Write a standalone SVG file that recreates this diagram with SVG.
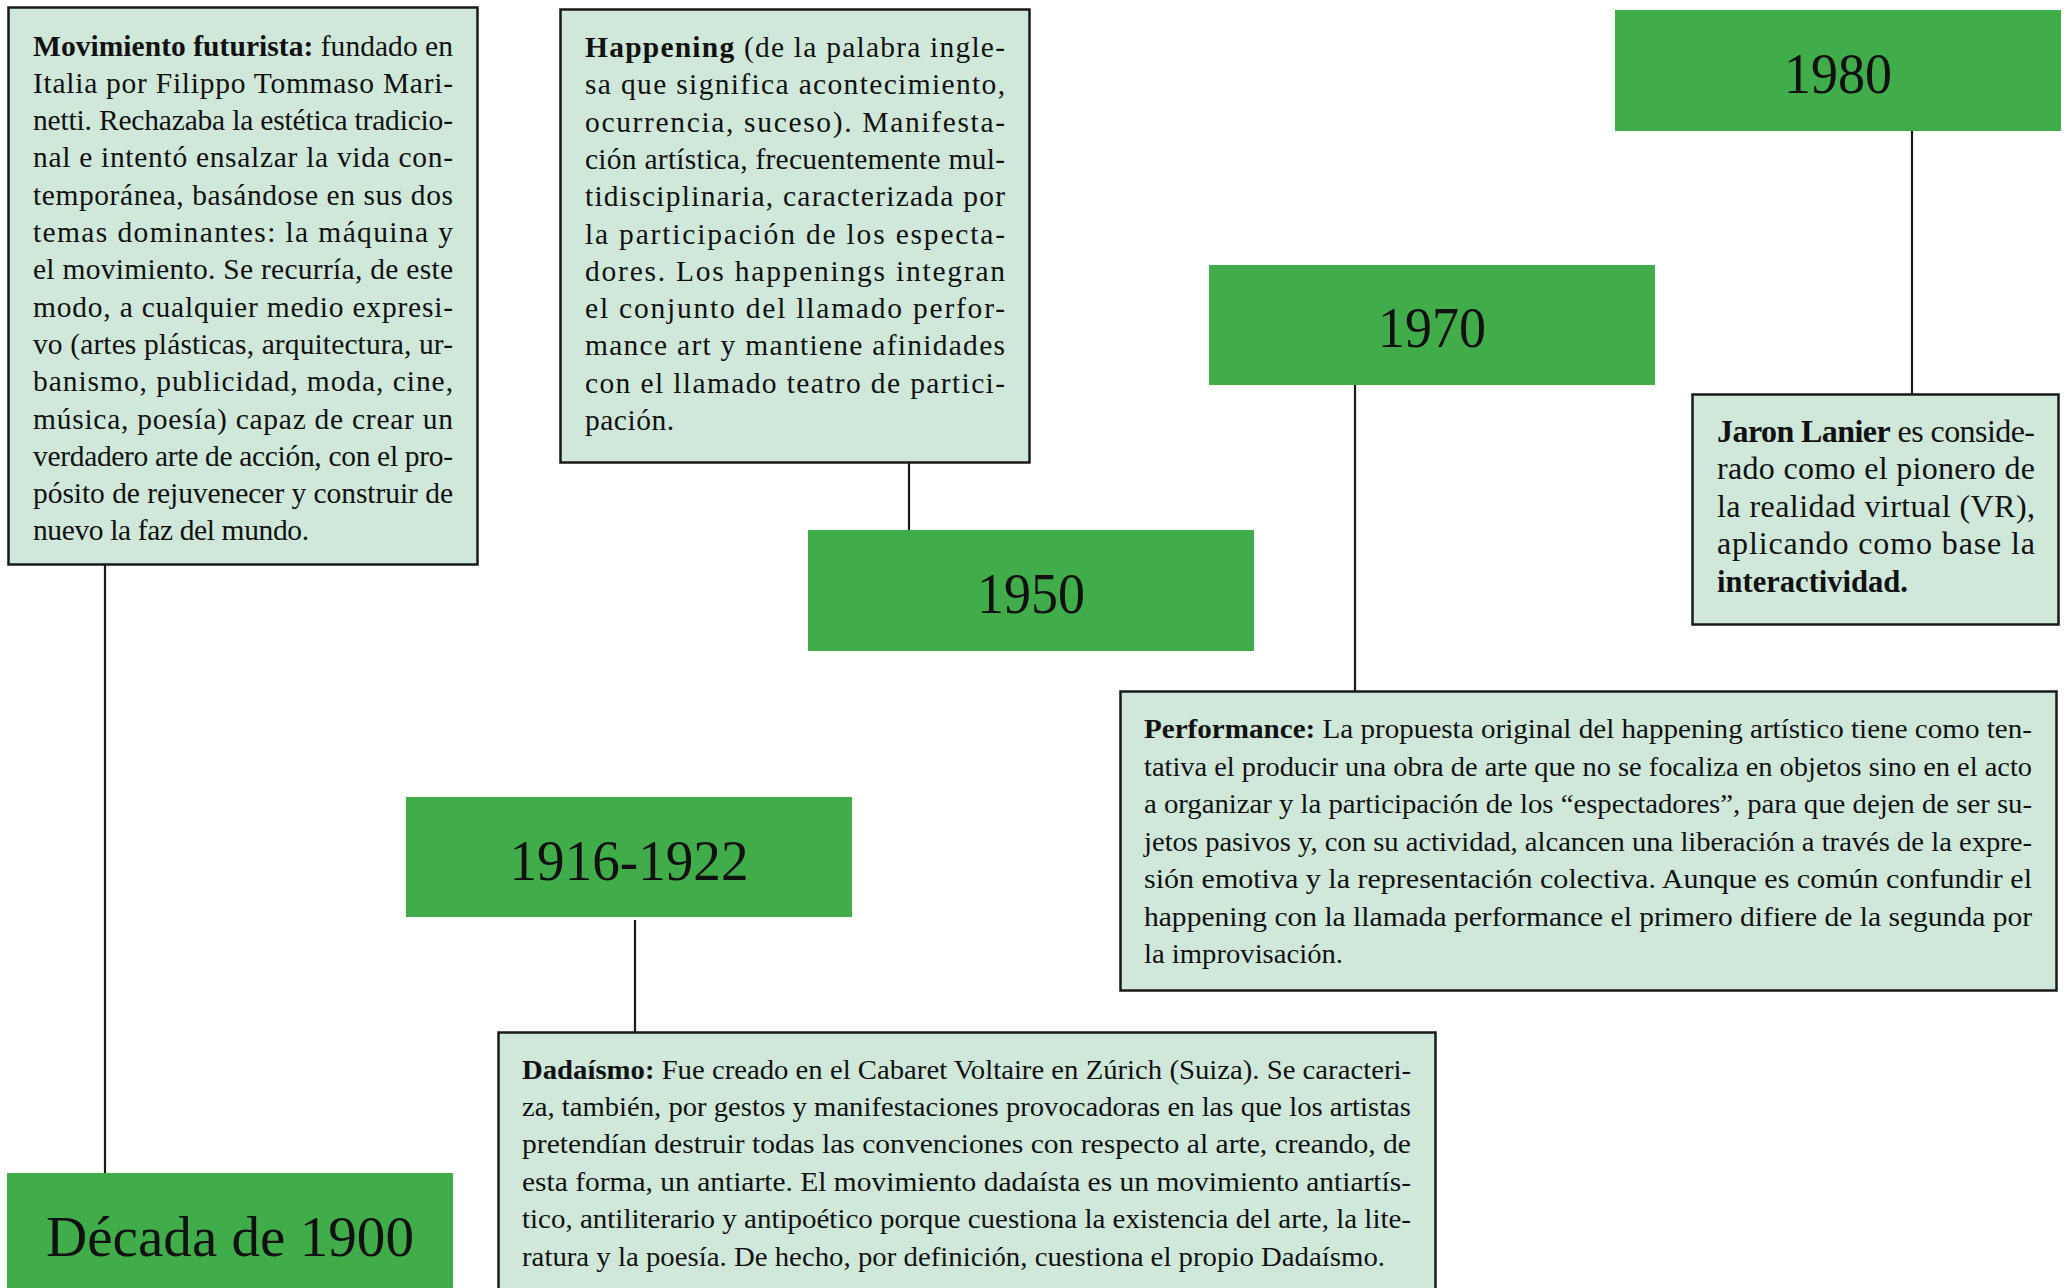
<svg xmlns="http://www.w3.org/2000/svg" width="2065" height="1288" viewBox="0 0 2065 1288">
<style>
.card{fill:#cfe8da;stroke:#1a1a1a;stroke-width:2.5}
.year{fill:#41ad4a}
.conn{stroke:#1a1a1a;stroke-width:2.2;fill:none}
.t{font-family:"Liberation Serif","DejaVu Serif",serif;font-size:28px;fill:#111}
.tw{font-size:29.5px}
.tj{font-family:"Liberation Serif","DejaVu Serif",serif;font-size:32px;fill:#111}
.b{font-weight:bold}
.y{font-family:"Liberation Serif","DejaVu Serif",serif;font-size:57px;fill:#111;text-anchor:middle}
</style>
<rect width="2065" height="1288" fill="#ffffff"/>
<g id="connectors">
<line class="conn" x1="105" y1="565" x2="105" y2="1173"/>
<line class="conn" x1="635" y1="920" x2="635" y2="1033"/>
<line class="conn" x1="909" y1="463" x2="909" y2="530"/>
<line class="conn" x1="1355" y1="385" x2="1355" y2="691"/>
<line class="conn" x1="1912" y1="128" x2="1912" y2="394"/>
</g>
<g id="futurismo">
<rect class="card" x="8.5" y="7.5" width="469" height="557"/>
<text class="t tw" x="33" y="55.5" textLength="420" lengthAdjust="spacing"><tspan class="b">Movimiento futurista:</tspan> fundado en</text>
<text class="t tw" x="33" y="92.8" textLength="420" lengthAdjust="spacing">Italia por Filippo Tommaso Mari-</text>
<text class="t tw" x="33" y="130.1" textLength="420" lengthAdjust="spacing">netti. Rechazaba la estética tradicio-</text>
<text class="t tw" x="33" y="167.4" textLength="420" lengthAdjust="spacing">nal e intentó ensalzar la vida con-</text>
<text class="t tw" x="33" y="204.7" textLength="420" lengthAdjust="spacing">temporánea, basándose en sus dos</text>
<text class="t tw" x="33" y="242" textLength="420" lengthAdjust="spacing">temas dominantes: la máquina y</text>
<text class="t tw" x="33" y="279.3" textLength="420" lengthAdjust="spacing">el movimiento. Se recurría, de este</text>
<text class="t tw" x="33" y="316.6" textLength="420" lengthAdjust="spacing">modo, a cualquier medio expresi-</text>
<text class="t tw" x="33" y="353.9" textLength="420" lengthAdjust="spacing">vo (artes plásticas, arquitectura, ur-</text>
<text class="t tw" x="33" y="391.2" textLength="420" lengthAdjust="spacing">banismo, publicidad, moda, cine,</text>
<text class="t tw" x="33" y="428.5" textLength="420" lengthAdjust="spacing">música, poesía) capaz de crear un</text>
<text class="t tw" x="33" y="465.8" textLength="420" lengthAdjust="spacing">verdadero arte de acción, con el pro-</text>
<text class="t tw" x="33" y="503.1" textLength="420" lengthAdjust="spacing">pósito de rejuvenecer y construir de</text>
<text class="t tw" x="33" y="540.4" textLength="276" lengthAdjust="spacing">nuevo la faz del mundo.</text>
</g>
<g id="decada1900">
<rect class="year" x="7" y="1173" width="446" height="120"/>
<text class="y" x="230" y="1256" textLength="368" lengthAdjust="spacingAndGlyphs">Década de 1900</text>
</g>
<g id="y1916">
<rect class="year" x="406" y="797" width="446" height="120"/>
<text class="y" x="629" y="880" textLength="239" lengthAdjust="spacingAndGlyphs">1916-1922</text>
</g>
<g id="dadaismo">
<rect class="card" x="498.5" y="1032.5" width="937" height="270"/>
<text class="t" x="522" y="1078.5" textLength="889" lengthAdjust="spacingAndGlyphs"><tspan class="b">Dadaísmo:</tspan> Fue creado en el Cabaret Voltaire en Zúrich (Suiza). Se caracteri-</text>
<text class="t" x="522" y="1115.9" textLength="889" lengthAdjust="spacingAndGlyphs">za, también, por gestos y manifestaciones provocadoras en las que los artistas</text>
<text class="t" x="522" y="1153.3" textLength="889" lengthAdjust="spacingAndGlyphs">pretendían destruir todas las convenciones con respecto al arte, creando, de</text>
<text class="t" x="522" y="1190.7" textLength="889" lengthAdjust="spacingAndGlyphs">esta forma, un antiarte. El movimiento dadaísta es un movimiento antiartís-</text>
<text class="t" x="522" y="1228.1" textLength="889" lengthAdjust="spacingAndGlyphs">tico, antiliterario y antipoético porque cuestiona la existencia del arte, la lite-</text>
<text class="t" x="522" y="1265.5" textLength="863" lengthAdjust="spacingAndGlyphs">ratura y la poesía. De hecho, por definición, cuestiona el propio Dadaísmo.</text>
</g>
<g id="happening">
<rect class="card" x="560.5" y="9.5" width="469" height="453"/>
<text class="t tw" x="585" y="57" textLength="420" lengthAdjust="spacing"><tspan class="b">Happening</tspan> (de la palabra ingle-</text>
<text class="t tw" x="585" y="94.3" textLength="420" lengthAdjust="spacing">sa que significa acontecimiento,</text>
<text class="t tw" x="585" y="131.6" textLength="420" lengthAdjust="spacing">ocurrencia, suceso). Manifesta-</text>
<text class="t tw" x="585" y="168.9" textLength="420" lengthAdjust="spacing">ción artística, frecuentemente mul-</text>
<text class="t tw" x="585" y="206.2" textLength="420" lengthAdjust="spacing">tidisciplinaria, caracterizada por</text>
<text class="t tw" x="585" y="243.5" textLength="420" lengthAdjust="spacing">la participación de los especta-</text>
<text class="t tw" x="585" y="280.8" textLength="420" lengthAdjust="spacing">dores. Los happenings integran</text>
<text class="t tw" x="585" y="318.1" textLength="420" lengthAdjust="spacing">el conjunto del llamado perfor-</text>
<text class="t tw" x="585" y="355.4" textLength="420" lengthAdjust="spacing">mance art y mantiene afinidades</text>
<text class="t tw" x="585" y="392.7" textLength="420" lengthAdjust="spacing">con el llamado teatro de partici-</text>
<text class="t tw" x="585" y="430" textLength="89" lengthAdjust="spacing">pación.</text>
</g>
<g id="y1950">
<rect class="year" x="808" y="530" width="446" height="121"/>
<text class="y" x="1031" y="613" textLength="108" lengthAdjust="spacingAndGlyphs">1950</text>
</g>
<g id="y1970">
<rect class="year" x="1209" y="265" width="446" height="120"/>
<text class="y" x="1432" y="347" textLength="108" lengthAdjust="spacingAndGlyphs">1970</text>
</g>
<g id="performance">
<rect class="card" x="1120.5" y="691.5" width="936" height="299"/>
<text class="t" x="1144" y="738" textLength="888" lengthAdjust="spacingAndGlyphs"><tspan class="b">Performance:</tspan> La propuesta original del happening artístico tiene como ten-</text>
<text class="t" x="1144" y="775.5" textLength="888" lengthAdjust="spacingAndGlyphs">tativa el producir una obra de arte que no se focaliza en objetos sino en el acto</text>
<text class="t" x="1144" y="813" textLength="888" lengthAdjust="spacingAndGlyphs">a organizar y la participación de los “espectadores”, para que dejen de ser su-</text>
<text class="t" x="1144" y="850.5" textLength="888" lengthAdjust="spacingAndGlyphs">jetos pasivos y, con su actividad, alcancen una liberación a través de la expre-</text>
<text class="t" x="1144" y="888" textLength="888" lengthAdjust="spacingAndGlyphs">sión emotiva y la representación colectiva. Aunque es común confundir el</text>
<text class="t" x="1144" y="925.5" textLength="888" lengthAdjust="spacingAndGlyphs">happening con la llamada performance el primero difiere de la segunda por</text>
<text class="t" x="1144" y="963" textLength="199" lengthAdjust="spacingAndGlyphs">la improvisación.</text>
</g>
<g id="y1980">
<rect class="year" x="1615" y="10" width="446" height="121"/>
<text class="y" x="1838" y="93" textLength="108" lengthAdjust="spacingAndGlyphs">1980</text>
</g>
<g id="lanier">
<rect class="card" x="1692.5" y="394.5" width="366" height="230"/>
<text class="tj" x="1717" y="442" textLength="318" lengthAdjust="spacing"><tspan class="b">Jaron Lanier</tspan> es conside-</text>
<text class="tj" x="1717" y="479.4" textLength="318" lengthAdjust="spacing">rado como el pionero de</text>
<text class="tj" x="1717" y="516.8" textLength="318" lengthAdjust="spacing">la realidad virtual (VR),</text>
<text class="tj" x="1717" y="554.2" textLength="318" lengthAdjust="spacing">aplicando como base la</text>
<text class="tj b" x="1717" y="591.6" textLength="191" lengthAdjust="spacingAndGlyphs">interactividad.</text>
</g>
</svg>
